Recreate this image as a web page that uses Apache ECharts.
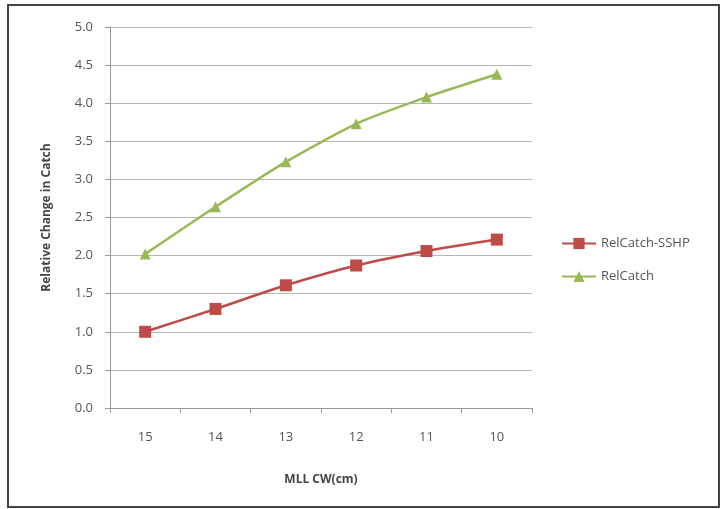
<!DOCTYPE html>
<html><head><meta charset="utf-8">
<script src="https://cdn.jsdelivr.net/npm/echarts@6/dist/echarts.min.js"></script>
<style>html,body{margin:0;padding:0;background:#fff}#c{width:721px;height:509px}</style>
</head><body><div id="c"></div>
<script>
const categories = ['15','14','13','12','11','10'];
const relCatchSSHP = [1.00, 1.30, 1.61, 1.87, 2.06, 2.21];
const relCatch = [2.02, 2.64, 3.23, 3.73, 4.08, 4.38];
const seriesNames = ['RelCatch-SSHP','RelCatch'];
const font = '"Open Sans", "Liberation Sans", sans-serif';
const chart = echarts.init(document.getElementById('c'));
chart.setOption({
  animation:false,
  backgroundColor:'#fff',
  graphic:[{type:'rect',shape:{x:8,y:5,width:711,height:502},style:{fill:'none',stroke:'#444',lineWidth:2}}],
  grid:{left:110,right:189,top:27,bottom:101},
  legend:{orient:'vertical',left:556,top:232,itemGap:20,itemWidth:34,itemHeight:14,
    textStyle:{fontFamily:font,fontSize:13,color:'#555'},data:seriesNames},
  xAxis:{type:'category',data:categories,boundaryGap:true,
    name:'MLL CW(cm)',nameLocation:'middle',nameGap:66,
    nameTextStyle:{fontFamily:font,fontSize:12,fontWeight:'bold',color:'#444'},
    axisLine:{lineStyle:{color:'#999'}},axisTick:{show:true,alignWithLabel:false,length:5,lineStyle:{color:'#999'}},
    axisLabel:{fontFamily:font,fontSize:13,color:'#555',margin:23}},
  yAxis:{type:'value',min:0,max:5,interval:0.5,
    name:'Relative Change in Catch',nameLocation:'middle',nameGap:57,nameRotate:90,
    nameTextStyle:{fontFamily:font,fontSize:12,fontWeight:'bold',color:'#444'},
    axisLine:{show:true,lineStyle:{color:'#999'}},axisTick:{show:true,length:5,lineStyle:{color:'#999'}},
    splitLine:{lineStyle:{color:'#b5b5b5',width:1}},
    axisLabel:{fontFamily:font,fontSize:13,color:'#555',margin:17,formatter:v=>v.toFixed(1)}},
  series:[
    {name:seriesNames[0],type:'line',data:relCatchSSHP,smooth:0.2,symbol:'rect',symbolSize:12,
      lineStyle:{color:'#be4b48',width:2.5},itemStyle:{color:'#be4b48'}},
    {name:seriesNames[1],type:'line',data:relCatch,smooth:0.2,symbol:'triangle',symbolSize:11,
      lineStyle:{color:'#98b954',width:2.5},itemStyle:{color:'#98b954'}}
  ]
});
</script></body></html>
